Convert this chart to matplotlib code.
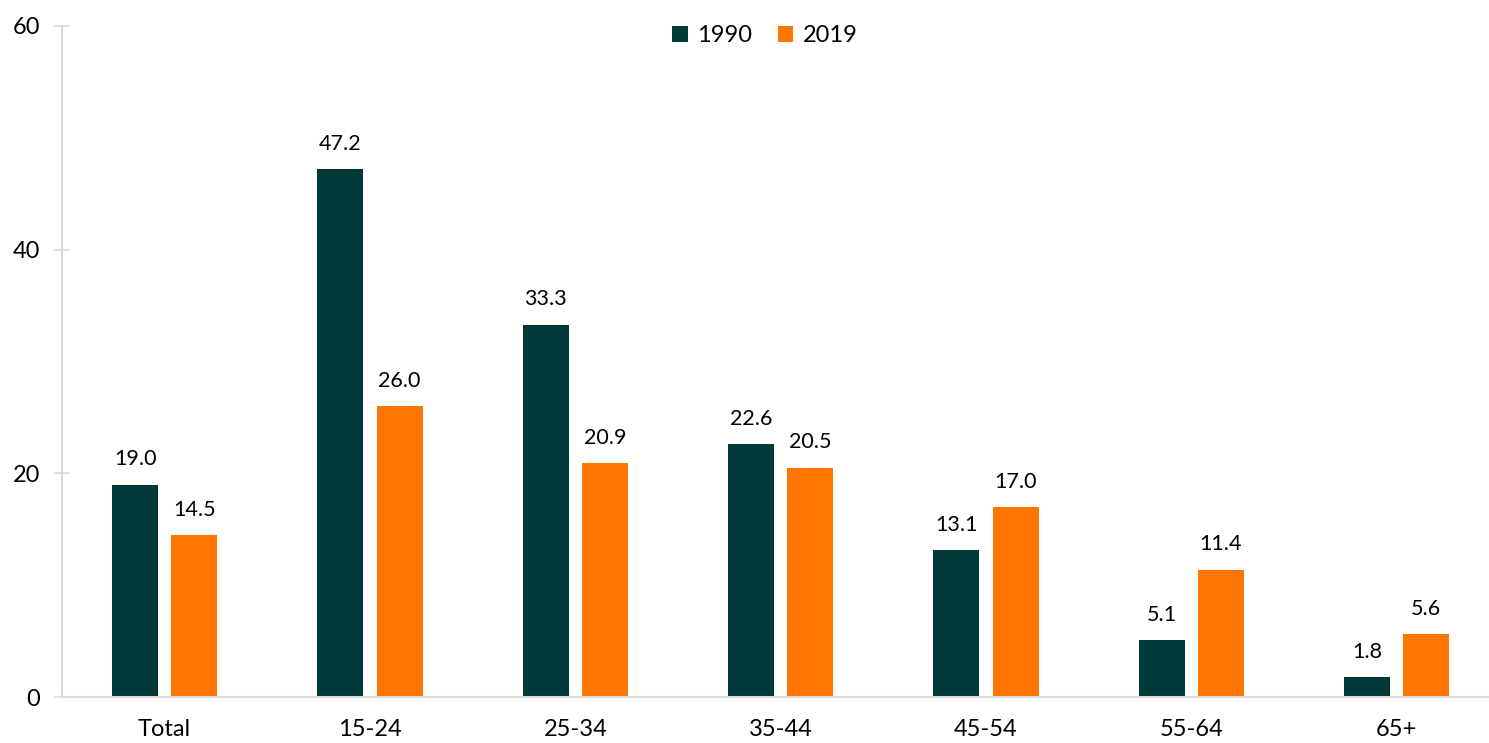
import matplotlib
matplotlib.use("Agg")
import matplotlib.pyplot as plt
import numpy as np

categories = ["Total", "15-24", "25-34", "35-44", "45-54", "55-64", "65+"]
values_1990 = [19.0, 47.2, 33.3, 22.6, 13.1, 5.1, 1.8]
values_2019 = [14.5, 26.0, 20.9, 20.5, 17.0, 11.4, 5.6]
series_names = ["1990", "2019"]
yticks = [0, 20, 40, 60]

plt.rcParams['font.family'] = ['Lato', 'DejaVu Sans']

fig = plt.figure(figsize=(14.89, 7.43), dpi=100)
ax = fig.add_axes([62/1489, 46/743, 1427/1489, 671/743])

x = np.arange(len(categories))
w = 0.224
off = 0.144
c1 = "#013838"
c2 = "#FF7700"
b1 = ax.bar(x - off, values_1990, w, color=c1, label=series_names[0])
b2 = ax.bar(x + off, values_2019, w, color=c2, label=series_names[1])

for bars, vals in ((b1, values_1990), (b2, values_2019)):
    for rect, v in zip(bars, vals):
        ax.annotate(f"{v:.1f}", (rect.get_x() + rect.get_width()/2, v),
                    xytext=(0, 11), textcoords="offset points",
                    ha="center", va="bottom", fontsize=15.5, color="black")

ax.set_xlim(-0.5, 6.45)
ax.set_ylim(0, 60)
ax.set_yticks(yticks)
ax.set_xticks(x)
ax.set_xticklabels(categories, fontsize=17)
ax.tick_params(axis='y', direction='inout', length=11.5, width=1.2, color="#d9d9d9",
               labelsize=17, pad=10)
ax.tick_params(axis='x', length=0, pad=16)

for s in ("top", "right"):
    ax.spines[s].set_visible(False)
for s in ("left", "bottom"):
    ax.spines[s].set_color("#d9d9d9")
    ax.spines[s].set_linewidth(1.5)

fig.legend(handles=[b1, b2], labels=series_names, loc="center",
           bbox_to_anchor=(765/1489, 1 - 36/743), ncol=2, frameon=False,
           fontsize=17, handlelength=0.65, handleheight=0.65, handletextpad=0.4,
           columnspacing=1.1)

fig.savefig("out.png", dpi=100)
